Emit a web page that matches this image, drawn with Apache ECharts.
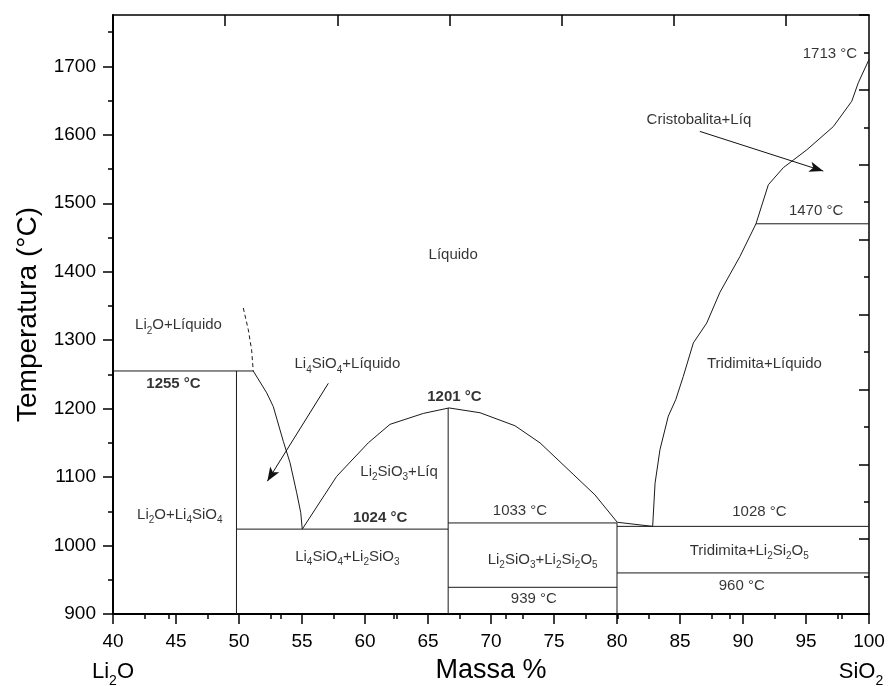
<!DOCTYPE html>
<html>
<head>
<meta charset="utf-8">
<script src="https://cdn.jsdelivr.net/npm/echarts@6/dist/echarts.min.js"></script>
<style>html,body{margin:0;padding:0;background:#fff}#c{width:889px;height:686px}</style>
</head>
<body>
<div id="c"></div>
<script>
// ---------- data ----------
const yMajorTicks = [900, 1000, 1100, 1200, 1300, 1400, 1500, 1600, 1700];
const yMinorTicks = [950, 1050, 1150, 1250, 1350, 1450, 1550, 1650, 1750];
const topMajorTicks = [2, 4, 6, 8, 10, 12];
const topMinorTicks = [1, 3, 5, 7, 9, 11, 13];
const endLabels = [[40, 'Li_2O'], [100, 'SiO_2']];

const li4sio4Dashed = [[50.34, 1347], [50.74, 1315], [51.0, 1286], [51.13, 1255]];
const li4sio4Liquidus = [[51.13, 1255], [52.2, 1223], [52.72, 1203], [53.52, 1152], [54.05, 1121], [54.58, 1077], [54.9, 1048], [55.02, 1024]];
const li2sio3Liquidus = [[55.02, 1024], [57.75, 1101], [60.26, 1150], [61.98, 1177], [64.63, 1193], [66.67, 1201], [69.13, 1194], [71.9, 1175], [73.89, 1150], [76.53, 1104], [78.25, 1074], [80.02, 1034], [82.83, 1028]];
const silicaLiquidus = [[82.83, 1028], [83.02, 1091], [83.41, 1140], [84.07, 1189], [84.66, 1213], [85.26, 1247], [86.06, 1296], [87.12, 1325], [88.17, 1370], [89.75, 1422], [91.03, 1470], [92.01, 1527], [93.2, 1552], [95.06, 1578], [97.17, 1612], [98.63, 1649], [99.15, 1676], [100, 1710]];

const h1255 = [[40, 1255], [51.13, 1255]];
const h1024 = [[49.8, 1024], [66.6, 1024]];
const h1033 = [[66.6, 1033], [80, 1033]];
const h939 = [[66.6, 939], [80, 939]];
const h1028 = [[80, 1028], [100, 1028]];
const h960 = [[80, 960], [100, 960]];
const h1470 = [[91.03, 1470], [100, 1470]];
const v50 = [[49.8, 900], [49.8, 1255]];
const v667 = [[66.6, 900], [66.6, 1201]];
const v80 = [[80, 900], [80, 1033]];

const arrowCristobalita = [[86.57, 1605], [96.37, 1547]];
const arrowLi4SiO4 = [[57.09, 1237], [52.25, 1094]];

const labelTexts = ['1713 °C', 'Cristobalita+Líq', '1470 °C', 'Líquido', 'Li_2O+Líquido', 'Li_4SiO_4+Líquido', '1255 °C', '1201 °C', 'Li_2SiO_3+Líq', '1024 °C', 'Li_2O+Li_4SiO_4', 'Li_4SiO_4+Li_2SiO_3', '1033 °C', 'Li_2SiO_3+Li_2Si_2O_5', '939 °C', '1028 °C', 'Tridimita+Li_2Si_2O_5', '960 °C', 'Tridimita+Líquido'];
const labelX = [96.9, 86.5, 95.8, 67.0, 45.2, 58.6, 44.8, 67.1, 62.7, 61.2, 45.3, 58.6, 72.3, 74.1, 73.4, 91.3, 90.5, 89.9, 91.7];
const labelY = [1717, 1621, 1488, 1424, 1321, 1264, 1235, 1217, 1107, 1040, 1044, 983, 1050, 978, 922, 1048, 991, 941, 1265];
const boldLabels = new Set(['1255 °C', '1201 °C', '1024 °C']);

// ---------- helpers ----------
const FONT = 'Arial, "Liberation Sans", sans-serif';
function toRich(text, n, s) {
  return text.split(/_(\d)/).map((p, i) => p === '' ? '' : (i % 2 ? '{' + s + '|' + p + '}' : '{' + n + '|' + p + '}')).join('');
}
function lineSeries(data, dashed) {
  return {
    type: 'line', data: data, symbol: 'none', showSymbol: false, silent: true, animation: false,
    xAxisIndex: 0, yAxisIndex: 0,
    lineStyle: { color: '#1a1a1a', width: 1, type: dashed ? [4, 3] : 'solid' }
  };
}

const chart = echarts.init(document.getElementById('c'), null, { renderer: 'canvas' });
const black = '#000';
const option = {
  animation: false,
  backgroundColor: '#fff',
  textStyle: { fontFamily: FONT },
  grid: { left: 113, right: 20, top: 15, bottom: 72, containLabel: false, outerBoundsMode: 'none' },
  xAxis: [
    {
      type: 'value', position: 'bottom', min: 40, max: 100, interval: 5,
      axisLine: { show: true, onZero: false, lineStyle: { color: black, width: 2 } },
      axisTick: { show: true, length: 10, lineStyle: { color: black, width: 1.5 } },
      minorTick: { show: true, splitNumber: 2, length: 5, lineStyle: { color: black, width: 1.5 } },
      axisLabel: { fontSize: 19, color: black, margin: 18, fontFamily: FONT, formatter: v => String(v) },
      splitLine: { show: false }, minorSplitLine: { show: false },
      name: 'Massa %', nameLocation: 'middle', nameGap: 43,
      nameTextStyle: { fontSize: 27, color: black, fontFamily: FONT }
    },
    {
      type: 'value', position: 'top', min: 0, max: 13.48,
      axisLine: { show: true, onZero: false, lineStyle: { color: black, width: 1.5 } },
      axisTick: { show: true, inside: true, length: 11, customValues: topMajorTicks, lineStyle: { color: black, width: 1.5 } },
      axisLabel: { show: false }, splitLine: { show: false }
    },
    {
      type: 'value', position: 'top', min: 0, max: 13.48,
      axisLine: { show: false },
      axisTick: { show: true, inside: true, length: 5, customValues: topMinorTicks, lineStyle: { color: black, width: 1.5 } },
      axisLabel: { show: false }, splitLine: { show: false }
    },
    {
      type: 'value', position: 'bottom', min: 40, max: 100,
      axisLine: { show: false }, axisTick: { show: false }, splitLine: { show: false },
      axisLabel: {
        show: true, customValues: endLabels.map(e => e[0]), margin: 47,
        formatter: v => {
          const e = endLabels.find(d => d[0] === v);
          if (!e) return '';
          return toRich(e[1], 'N', v === 100 ? 'SR' : 'S');
        },
        rich: {
          N: { fontSize: 22, lineHeight: 24, verticalAlign: 'top', color: black, fontFamily: FONT },
          S: { fontSize: 14, lineHeight: 14, padding: [13, 0, 0, 0], verticalAlign: 'top', color: black, fontFamily: FONT },
          SR: { fontSize: 14, lineHeight: 14, padding: [13, 16, 0, 0], verticalAlign: 'top', color: black, fontFamily: FONT }
        }
      }
    }
  ],
  yAxis: [
    {
      type: 'value', position: 'left', min: 900, max: 1775,
      axisLine: { show: true, onZero: false, lineStyle: { color: black, width: 2 } },
      axisTick: { show: true, length: 10, customValues: yMajorTicks, lineStyle: { color: black, width: 1.5 } },
      axisLabel: { customValues: yMajorTicks, fontSize: 19, color: black, margin: 17, fontFamily: FONT, formatter: v => String(v) },
      splitLine: { show: false },
      name: 'Temperatura (°C)', nameLocation: 'middle', nameGap: 71,
      nameTextStyle: { fontSize: 28, color: black, fontFamily: FONT }
    },
    {
      type: 'value', position: 'left', min: 900, max: 1775,
      axisLine: { show: false },
      axisTick: { show: true, length: 5, customValues: yMinorTicks, lineStyle: { color: black, width: 1.5 } },
      axisLabel: { show: false }, splitLine: { show: false }
    },
    {
      type: 'value', position: 'right', min: 0, max: 8, interval: 1,
      axisLine: { show: true, onZero: false, lineStyle: { color: black, width: 1.5 } },
      axisTick: { show: true, inside: true, length: 10, lineStyle: { color: black, width: 1.5 } },
      minorTick: { show: true, splitNumber: 2, length: 5, lineStyle: { color: black, width: 1.5 } },
      axisLabel: { show: false }, splitLine: { show: false }, minorSplitLine: { show: false }
    }
  ],
  series: [
    lineSeries(li4sio4Dashed, true),
    lineSeries(li4sio4Liquidus),
    lineSeries(li2sio3Liquidus),
    lineSeries(silicaLiquidus),
    lineSeries(h1255), lineSeries(h1024), lineSeries(h1033), lineSeries(h939),
    lineSeries(h1028), lineSeries(h960), lineSeries(h1470),
    lineSeries(v50), lineSeries(v667), lineSeries(v80),
    {
      type: 'scatter', xAxisIndex: 0, yAxisIndex: 0, symbolSize: 0, silent: true, animation: false,
      data: labelTexts.map((t, i) => ({ name: t, value: [labelX[i], labelY[i]] })),
      label: {
        show: true, position: 'inside', color: black, textBorderWidth: 0,
        formatter: p => toRich(p.name, boldLabels.has(p.name) ? 'b' : 'n', 's'),
        rich: {
          n: { fontSize: 15, lineHeight: 16, verticalAlign: 'top', color: black, fontFamily: FONT, textBorderWidth: 0 },
          b: { fontSize: 15, lineHeight: 16, verticalAlign: 'top', color: black, fontFamily: FONT, fontWeight: 'bold', textBorderWidth: 0 },
          s: { fontSize: 10, lineHeight: 10, padding: [8, 0, 0, 0], verticalAlign: 'top', color: black, fontFamily: FONT, textBorderWidth: 0 }
        }
      },
      markLine: {
        silent: true, animation: false,
        symbol: ['none', 'arrow'], symbolSize: [8, 14],
        label: { show: false },
        lineStyle: { color: '#111', width: 1, type: 'solid' },
        data: [arrowCristobalita, arrowLi4SiO4].map(a => [{ coord: a[0] }, { coord: a[1] }])
      }
    }
  ]
};
chart.setOption(option);
</script>
</body>
</html>
